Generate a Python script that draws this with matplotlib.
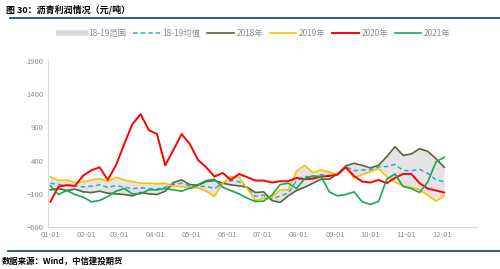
import numpy as np
import pandas as pd
import matplotlib
matplotlib.use('Agg')
import matplotlib.pyplot as plt
import matplotlib.dates as mdates
from matplotlib.lines import Line2D

plt.rcParams['font.family'] = ['Noto Sans CJK SC', 'DejaVu Sans']

# --- Data (weekly readings, starting 01-01) ---
dates = pd.date_range('2021-01-01', periods=49, freq='7D')

y2018 = [-40, -20, -50, -30, -70, -80, -60, -90, -100, -110, -130, -80, -100,
         -110, -60, 70, 110, 40, 30, 85, 100, 60, 35, 20, 0, -80, -70, -200,
         -230, -130, -50, 0, 60, 120, 120, 200, 320, 360, 330, 290, 330, 460,
         610, 480, 500, 580, 540, 430, 300]
y2019 = [160, 100, 110, 70, 80, 110, 130, 85, 150, 110, 85, 60, 60, 50, 60,
         10, 10, -15, -10, -60, -140, 60, 160, 150, -20, -200, -170, -150,
         -40, -40, 240, 330, 220, 260, 230, 190, 300, 140, 190, 230, 280,
         160, 80, 20, 0, -40, -120, -210, -130]
y2020 = [-220, 10, 30, 20, 175, 255, 300, 110, 330, 650, 950, 1100, 860, 800,
         330, 560, 800, 650, 410, 300, 160, 215, 110, 200, 150, 100, 100, 70,
         90, 90, 140, 120, 130, 160, 170, 190, 300, 170, 85, 70, 110, 60, 140,
         200, 200, 60, -20, -50, -80]
y2021 = [20, -110, -50, -110, -150, -220, -200, -140, -60, -20, -100, -100,
         -40, -40, -20, -40, -60, -15, 40, 100, 120, 0, -50, -100, -165, -215,
         -210, -120, 40, 60, -20, 130, 170, 160, -70, -130, -110, -70, -220,
         -260, -215, 120, 200, 10, -20, -80, 80, 380, 450]

series_labels = ['18-19范围', '18-19均值', '2018年', '2019年', '2020年', '2021年']
yticks = [-600, -100, 400, 900, 1400, 1900]

# 18-19 range and mean come straight from the two years above
lo = np.minimum(y2018, y2019)
hi = np.maximum(y2018, y2019)
mean_1819 = (np.array(y2018) + np.array(y2019)) / 2

c_range = '#e4e4e4'
c_mean = '#2ea7e0'
c_2018 = '#55663d'
c_2019 = '#ffc000'
c_2020 = '#ff0000'
c_2021 = '#17a852'

fig = plt.figure(figsize=(5, 2.69), dpi=100)
ax = fig.add_axes([0.096, 0.156, 0.858, 0.617])

ax.fill_between(dates, lo, hi, color=c_range, lw=0)
ax.plot(dates, mean_1819, color=c_mean, lw=1.1, ls=(0, (3, 2)))
ax.plot(dates, y2018, color=c_2018, lw=1.2)
ax.plot(dates, y2019, color=c_2019, lw=1.2)
ax.plot(dates, y2020, color=c_2020, lw=1.4)
ax.plot(dates, y2021, color=c_2021, lw=1.2)

ax.set_ylim(-600, 1900)
ax.set_yticks(yticks)
ax.set_xlim(pd.Timestamp('2020-12-30'), pd.Timestamp('2021-12-31'))
ax.xaxis.set_major_locator(mdates.MonthLocator())
ax.xaxis.set_major_formatter(mdates.DateFormatter('%m-%d'))
ax.tick_params(axis='both', length=0, labelsize=5.5, colors='#8c8c8c', pad=3)

for side in ['top', 'right']:
    ax.spines[side].set_visible(False)
for side in ['left', 'bottom']:
    ax.spines[side].set_color('#d9d9d9')
    ax.spines[side].set_linewidth(0.8)

handles = [
    Line2D([], [], color='#d9d9d9', lw=4),
    Line2D([], [], color=c_mean, lw=1.1, ls=(0, (3, 2))),
    Line2D([], [], color=c_2018, lw=1.2),
    Line2D([], [], color=c_2019, lw=1.2),
    Line2D([], [], color=c_2020, lw=1.4),
    Line2D([], [], color=c_2021, lw=1.2),
]
leg = fig.legend(handles, series_labels, loc='center', bbox_to_anchor=(0.51, 0.877),
                 ncol=6, frameon=False, fontsize=6, handlelength=3.2,
                 columnspacing=0.8, handletextpad=0.3)
for t in leg.get_texts():
    t.set_color('#8c8c8c')

# title, rules and source note
fig.text(0.012, 0.962, '图 30：沥青利润情况（元/吨）', fontsize=6.5, fontweight='bold',
         va='center', ha='left')
fig.add_artist(Line2D([0.02, 1.0], [0.933, 0.933], color='#1f4e79', lw=1.3))
fig.add_artist(Line2D([0.016, 1.0], [0.066, 0.066], color='#1f4e79', lw=1.3))
fig.text(0.004, 0.028, '数据来源：Wind，中信建投期货', fontsize=6, fontweight='bold',
         style='italic', va='center', ha='left')

fig.savefig('out.png', dpi=100)
